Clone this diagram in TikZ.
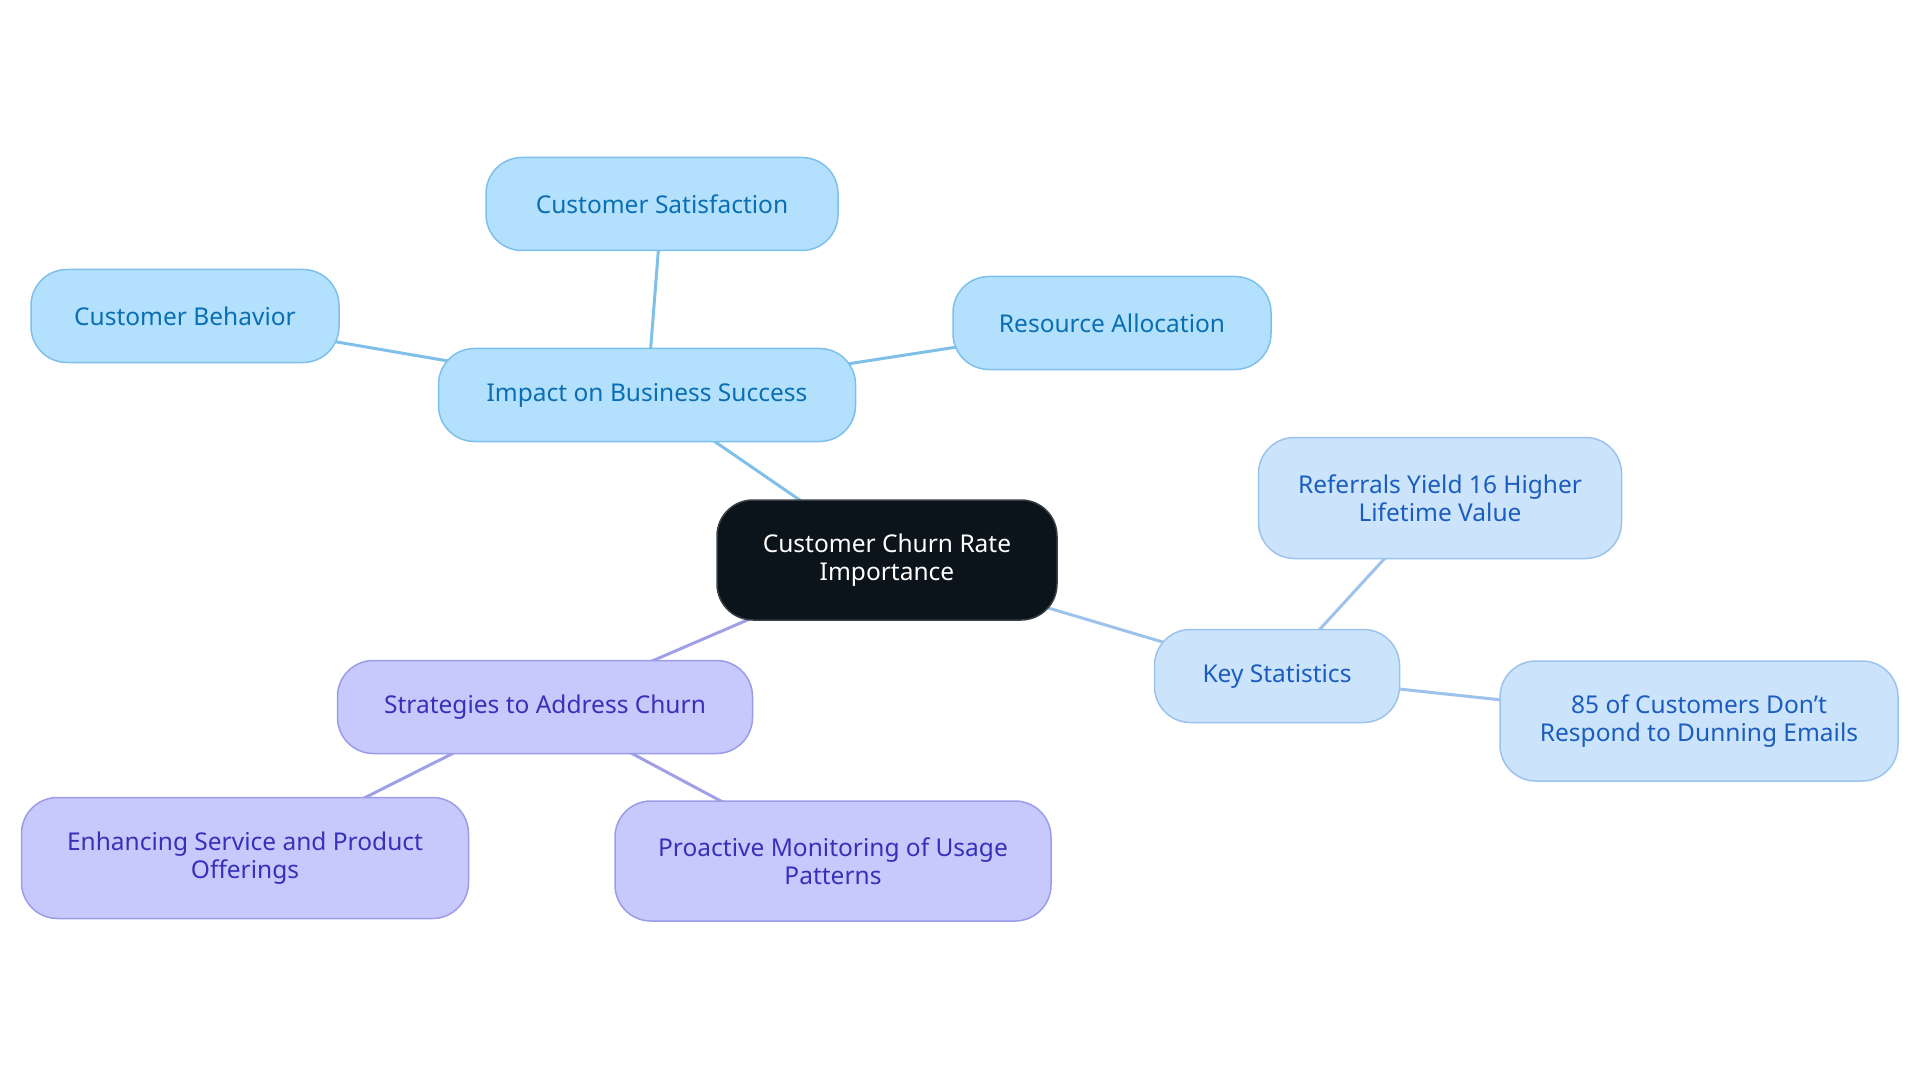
\documentclass[tikz,border=0pt]{standalone}
\usepackage{fontspec}
\setmainfont{Noto Sans}
\usetikzlibrary{backgrounds}
\begin{document}
\begin{tikzpicture}[x=1pt,y=-1pt,
  box/.style={rounded corners=36pt, line width=1.5pt, align=center, font=\fontsize{24.5}{28.5}\selectfont, inner sep=0pt},
  rootbox/.style={box, fill=rootfill, draw=rootdraw, text=white},
  bluebox/.style={box, fill=bluefill, draw=bluedraw, text=bluetext},
  statbox/.style={box, fill=statfill, draw=statdraw, text=stattext},
  purpbox/.style={box, fill=purpfill, draw=purpdraw, text=purptext},
  blueedge/.style={draw=blueedgec, line width=3pt},
  statedge/.style={draw=statedgec, line width=3pt},
  purpedge/.style={draw=purpedgec, line width=3pt}]
\definecolor{rootfill}{HTML}{0B131B}
\definecolor{rootdraw}{HTML}{3A3F45}
\definecolor{bluefill}{HTML}{B3E0FD}
\definecolor{bluedraw}{HTML}{7DC0EB}
\definecolor{bluetext}{HTML}{0A6FB2}
\definecolor{statfill}{HTML}{CCE4FB}
\definecolor{statdraw}{HTML}{9CC2EE}
\definecolor{stattext}{HTML}{1B5DBE}
\definecolor{purpfill}{HTML}{C7C9FD}
\definecolor{purpdraw}{HTML}{9B9CE8}
\definecolor{purptext}{HTML}{3730B8}
\definecolor{blueedgec}{HTML}{80C0E8}
\definecolor{statedgec}{HTML}{9DC3EC}
\definecolor{purpedgec}{HTML}{A0A0E8}
\useasboundingbox (0,0) rectangle (1920,1083);
\node[rootbox, minimum width=340pt, minimum height=120pt] (root) at (887,560) {Customer Churn Rate\\Importance};
\node[bluebox, minimum width=417pt, minimum height=93pt] (impact) at (647,395) {Impact on Business Success};
\node[bluebox, minimum width=352pt, minimum height=93pt] (sat) at (662,204) {Customer Satisfaction};
\node[bluebox, minimum width=308pt, minimum height=93pt] (beh) at (185,316) {Customer Behavior};
\node[bluebox, minimum width=318pt, minimum height=93pt] (res) at (1112,323) {Resource Allocation};
\node[statbox, minimum width=245pt, minimum height=93pt] (key) at (1277,676) {Key Statistics};
\node[statbox, minimum width=363pt, minimum height=121pt] (ref) at (1440,498) {Referrals Yield 16 Higher\\Lifetime Value};
\node[statbox, minimum width=398pt, minimum height=120pt] (dun) at (1699,721) {85 of Customers Don’t\\Respond to Dunning Emails};
\node[purpbox, minimum width=415pt, minimum height=93pt] (str) at (545,707) {Strategies to Address Churn};
\node[purpbox, minimum width=447pt, minimum height=121pt] (enh) at (245,858) {Enhancing Service and Product\\Offerings};
\node[purpbox, minimum width=436pt, minimum height=120pt] (pro) at (833,861) {Proactive Monitoring of Usage\\Patterns};
\begin{scope}[on background layer]
\path[blueedge] (root.center) -- (impact.center);
\path[blueedge] (impact.center) -- (sat.center);
\path[blueedge] (impact.center) -- (beh.center);
\path[blueedge] (impact.center) -- (res.center);
\path[statedge] (root.center) -- (key.center);
\path[statedge] (key.center) -- (ref.center);
\path[statedge] (key.center) -- (dun.center);
\path[purpedge] (root.center) -- (str.center);
\path[purpedge] (str.center) -- (enh.center);
\path[purpedge] (str.center) -- (pro.center);
\end{scope}
\end{tikzpicture}
\end{document}
